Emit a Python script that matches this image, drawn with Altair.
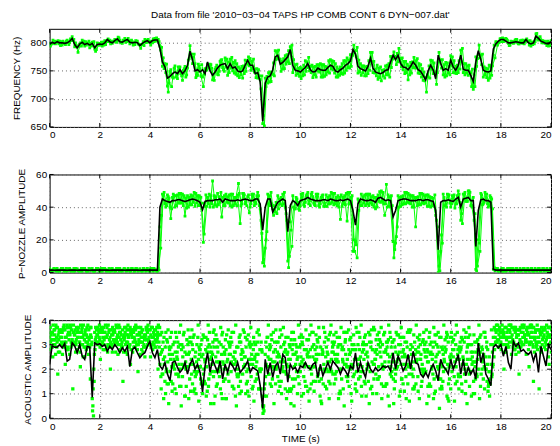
import altair as alt
import pandas as pd

FONT = "Liberation Sans"
GREEN = "#00ff00"
TITLE = "Data from file  '2010\u221203\u221204 TAPS HP COMB CONT 6 DYN\u2212007.dat'"
X_TITLE = "TIME (s)"
Y_TITLES = ["FREQUENCY (Hz)", "P\u2212NOZZLE AMPLITUDE", "ACOUSTIC AMPLITUDE"]
X_TICKS = [0, 2, 4, 6, 8, 10, 12, 14, 16, 18, 20]
Y_TICKS_1 = [650, 700, 750, 800]
Y_TICKS_2 = [0, 20, 40, 60]
Y_TICKS_3 = [0, 1, 2, 3, 4]
Y_DOM_1 = [650, 825]
Y_DOM_2 = [0, 60]
Y_DOM_3 = [0, 4]
STEP = 0.1  # seconds between samples

# ---- panel 1: frequency (Hz), smoothed line ----
freq_line = [
    797, 801, 799, 802, 800, 800, 799, 800, 803, 808,
    797, 791, 798, 801, 797, 799, 796, 799, 791, 797,
    798, 797, 800, 806, 802, 800, 804, 807, 802, 801,
    804, 806, 801, 800, 801, 800, 795, 799, 802, 804,
    800, 804, 805, 805, 790, 766, 757, 737, 740, 745,
    748, 745, 752, 745, 750, 760, 785, 770, 750, 752,
    748, 752, 745, 766, 750, 742, 748, 755, 760, 762,
    763, 754, 763, 755, 757, 750, 748, 750, 760, 769,
    760, 760, 745, 747, 730, 660, 728, 739, 741, 752,
    775, 778, 762, 765, 770, 775, 788, 760, 751, 750,
    748, 752, 756, 763, 752, 748, 749, 755, 752, 751,
    751, 756, 760, 758, 750, 748, 752, 755, 760, 763,
    768, 788, 780, 758, 754, 752, 750, 758, 773, 755,
    748, 746, 745, 747, 751, 752, 766, 778, 770, 778,
    763, 757, 756, 752, 758, 766, 760, 752, 749, 742,
    734, 750, 760, 752, 736, 778, 763, 751, 754, 751,
    769, 757, 751, 760, 778, 753, 751, 751, 742, 731,
    765, 786, 770, 751, 749, 748, 750, 789, 798, 803,
    806, 806, 803, 800, 800, 801, 802, 801, 800, 800,
    806, 800, 798, 800, 812, 808, 803, 801, 799, 798, 802,
]
# raw samples, as deviations (Hz) from the smoothed line
freq_dev_a = [
    2, -3, 4, -1, 3, -4, 1, 5, -2, 3,
    -4, 2, -1, 4, -3, 1, -5, 2, -2, 3,
    1, -3, 4, -2, 3, -1, 2, -4, 3, -2,
    4, -1, -3, 2, -4, 3, 1, -2, 4, -3,
    2, -4, 3, -1, 4, -8, 6, -14, 9, -6,
    11, -9, 5, -12, 8, -5, 10, -7, 13, -10,
    6, -13, 9, -4, 12, -8, 5, -11, 7, -6,
    10, -12, 8, -5, 11, -9, 6, -13, 9, -7,
    12, -6, 8, -10, 5, -4, 9, -11, 7, -8,
    11, -6, 9, -12, 7, -9, 5, -13, 10, -5,
    8, -11, 12, -7, 6, -10, 9, -5, 11, -12,
    7, -8, 10, -6, 13, -9, 5, -11, 8, -7,
    11, -10, 6, -12, 9, -5, 7, -13, 10, -8,
    5, -11, 12, -6, 8, -9, 10, -7, 6, -12,
    9, -5, 11, -18, 7, -10, 8, -6, 12, -9,
    5, -11, 9, -7, 10, -12, 6, -8, 11, -5,
    8, -10, 7, -13, 9, -6, 12, -9, 5, -14,
    10, -7, 8, -12, 6, -15, 9, -11, 4, -3,
    2, -4, 5, -1, 3, -2, 4, -3, 1, 5,
    -2, 3, -4, 1, 4, -3, 2, -1, 3, -4, 2,
]
freq_dev_b = [
    -3, 4, -1, 2, -5, 3, -2, 1, 4, -3,
    3, -8, 2, -3, 5, -1, 3, -4, -6, 1,
    -2, 4, -3, 1, -4, 2, -1, 3, -2, 4,
    -3, 2, 1, -4, 3, -2, -5, 3, -1, 2,
    -4, 3, -2, 1, -3, 7, -10, -25, 12, -8,
    -9, 12, -7, 6, -11, 9, -8, 5, -12, 10,
    -7, -30, 6, -9, 11, -5, 8, -12, 9, -10,
    -6, 12, -8, 10, -13, 7, -5, 9, -11, 6,
    -9, 11, -7, 5, -12, 10, -6, 8, -10, 12,
    -5, 9, -13, 7, -8, 11, -6, 10, -9, 5,
    -12, 8, -7, 11, -5, 9, -10, 6, -13, 10,
    -8, 12, -6, 9, -11, 5, -7, 13, -9, 6,
    -10, 8, -5, 11, -12, 7, -9, 10, -6, 12,
    -7, 9, -13, 5, -8, 11, -10, 6, -9, 12,
    -6, 10, -9, 7, -12, 8, -5, 11, -10, 6,
    -22, 9, -7, 12, -10, 5, -8, 10, -13, 7,
    -9, 11, -6, 8, -12, 10, -5, 9, -20, 12,
    -7, 10, -9, 6, -11, 12, -8, 7, 3, -2,
    -4, 1, 3, -5, 2, -1, 4, -3, 5, -2,
    1, -4, 3, -2, 5, -1, -3, 2, -4, 3, -1,
]
freq_dev_c = [
    1, -2, 3, -4, 2, -1, 4, -3, 1, -2,
    -2, 3, -4, 2, -1, 4, -2, 3, -3, -1,
    3, -1, 2, -4, 1, 3, -3, 2, -1, 3,
    -2, -3, 4, -1, 2, -3, 2, -4, 3, -1,
    3, -2, 4, -3, 2, -12, 5, -9, -18, 10,
    -6, 8, -11, 9, -7, 12, -5, 10, -9, 6,
    13, -8, 7, -11, 5, -9, 12, -6, 10, -13,
    8, -7, 11, -9, 6, -12, 10, -5, 8, -10,
    7, -12, 9, -6, 11, -8, 12, -9, 6, -11,
    10, -7, 5, -11, 9, -12, 8, -6, 11, -10,
    6, -9, 10, -13, 8, -5, 12, -7, 9, -11,
    5, -10, 8, -12, 7, -6, 11, -9, 13, -8,
    9, -6, 12, -10, 5, -11, 8, -7, 10, -9,
    12, -8, 6, -10, 9, -13, 7, -5, 11, -8,
    10, -12, 6, -9, 8, -11, 12, -7, 5, -10,
    9, -13, 8, -6, 11, -9, 7, -12, 10, -8,
    6, -11, 9, -7, 12, -10, 8, -6, 11, -9,
    7, -13, 10, -8, 5, -11, 9, -16, -2, 4,
    3, -3, 1, -4, 2, 4, -2, 3, -1, 2,
    -3, 4, -1, 2, -4, 3, 1, -2, 4, -3, 2,
]

# ---- panel 2: P-nozzle amplitude ----
pnoz_line = [
    1.5, 1.6, 1.4, 1.5, 1.5, 1.6, 1.5, 1.4, 1.5, 1.5,
    1.5, 1.4, 1.5, 1.6, 1.5, 1.5, 1.4, 1.5, 1.5, 1.6,
    1.5, 1.5, 1.6, 1.5, 1.4, 1.5, 1.5, 1.6, 1.5, 1.5,
    1.4, 1.5, 1.5, 1.6, 1.5, 1.5, 1.4, 1.5, 1.5, 1.5,
    1.5, 1.5, 1.6, 1.5, 40, 45, 44, 43.5, 43, 44,
    44, 44.5, 44.5, 44, 43.5, 44, 44.5, 45, 44.5, 44,
    43, 38.5, 43.5, 44, 44, 44, 44.5, 44.5, 45, 43,
    45, 44.5, 44, 44, 44, 44.5, 44, 44.5, 45, 44.5,
    44, 44, 45, 45, 42, 26, 40, 45, 45, 37,
    40, 43, 44, 45, 44, 25, 41, 44, 43, 41,
    44, 44.5, 45, 46, 45, 44.5, 44, 44, 44, 44.5,
    44.5, 44, 45, 44.5, 44, 44, 44.5, 44, 44.5, 45,
    44, 38, 29, 42, 45, 44.5, 44, 44, 44.5, 44,
    43, 45.5, 46, 45, 44, 44.5, 44, 34, 38, 44,
    44.5, 45, 45, 44.5, 44, 44, 44, 44.5, 44.5, 44,
    44.5, 44.5, 44, 43.5, 38, 14, 43, 44, 44, 44.5,
    44, 43.5, 45, 46, 40, 45, 45.5, 46, 44, 44,
    16, 38, 44.5, 45, 44, 44, 43, 2, 1.5, 1.5,
    1.5, 1.5, 1.5, 1.5, 1.5, 1.5, 1.5, 1.5, 1.5, 1.5,
    1.5, 1.5, 1.5, 1.5, 1.5, 1.5, 1.5, 1.5, 1.5, 1.5, 1.5,
]
pnoz_dev_a = [
    1, -1, 0, 1, -1, 1, 0, -1, 1, 0,
    -1, 1, 0, -1, 1, -1, 0, 1, -1, 1,
    0, -1, 1, 0, -1, 1, -1, 0, 1, -1,
    1, 0, -1, 1, -1, 0, 1, -1, 0, 1,
    -1, 1, 0, -1, -12, 3, -2, 4, -3, 2,
    -4, 3, -2, 4, -9, 3, -3, 2, -4, 3,
    -2, 4, -3, 2, -4, 12, -3, 4, -2, 3,
    -4, 2, -3, 4, -2, 3, -14, 4, -3, 2,
    -4, 3, -2, 4, -3, -20, -25, 3, -4, 2,
    -3, 4, -2, 3, -4, -18, -10, 3, -4, 2,
    -3, 4, -2, 3, -4, 2, -3, 4, -2, 3,
    -4, 2, -3, 4, -2, 3, -12, 2, -3, 4,
    -2, -25, -10, 3, -4, 2, -3, 4, -2, 3,
    -4, 2, -3, 4, -2, 3, -4, -15, -20, 3,
    -4, 2, -3, 4, -2, 3, -16, 2, -3, 4,
    -2, 3, -4, 2, -3, -14, -30, 4, -2, 3,
    -4, 2, -3, 4, -8, 3, -2, 4, -3, 2,
    -14, -18, 4, -3, 2, -4, 3, 0, 1, -1,
    0, 1, -1, 0, 1, -1, 1, 0, -1, 1,
    -1, 0, 1, -1, 0, 1, -1, 1, 0, -1, 1,
]
pnoz_dev_b = [
    -1, 0, 1, -1, 0, 1, -1, 1, 0, -1,
    1, 0, -1, 1, 0, -1, 1, -1, 0, 1,
    -1, 1, 0, -1, 1, 0, -1, 1, -1, 0,
    0, 1, -1, 0, 1, -1, 0, 1, -1, 0,
    1, -1, 0, 1, -25, 2, -4, 3, -10, 4,
    3, -2, 4, -3, 2, -4, 3, -2, 4, -3,
    3, -20, 4, -2, 3, -4, 2, -3, 4, -2,
    3, -2, 4, -3, 2, 10, -3, 4, -2, 3,
    -2, 4, -3, 2, -10, -18, -20, -3, 4, -2,
    3, -4, 2, -3, -8, -22, -15, -4, 3, -2,
    4, -3, 2, -4, 3, -2, 4, -3, 2, -4,
    3, -2, 4, -3, 2, -4, 3, -2, 4, -3,
    2, -18, -12, -4, 3, -2, 4, -3, 2, -4,
    3, -2, 4, -3, 10, -4, 3, -25, -16, -4,
    2, -3, 4, -2, 3, -4, 2, -3, 4, -2,
    3, -4, 2, -3, -6, -10, -20, 2, -4, 3,
    -2, 4, -3, 2, -4, 3, -2, 4, -3, -12,
    -15, -20, 3, -2, 4, -3, 2, 1, 0, -1,
    1, -1, 0, 1, -1, 0, 1, -1, 0, 1,
    0, -1, 1, 0, -1, 1, 0, -1, 1, 0, -1,
]
pnoz_dev_c = [
    0, 1, -1, 0, 1, -1, 1, 0, -1, 1,
    0, -1, 1, 0, -1, 1, 0, -1, 1, -1,
    1, 0, -1, 1, -1, 0, 1, -1, 0, 1,
    -1, 0, 1, -1, 1, 0, -1, 1, 0, -1,
    0, 1, -1, 0, -5, 4, -3, 2, -4, 3,
    -3, 4, -2, 3, -4, 2, -3, 4, -2, 3,
    -4, -15, -3, 4, -2, 3, -4, 2, -11, 4,
    -2, 3, -4, 2, -3, 4, -2, 3, -4, -8,
    4, -3, 2, -4, -18, -22, -15, 2, -3, 4,
    -4, 2, -3, 4, -12, -15, -25, -5, 2, -3,
    2, -4, 3, -2, 4, -3, 2, -4, 3, -2,
    -4, 3, -2, 4, -3, 2, -4, 3, -13, 4,
    3, -25, -20, 2, -4, 3, -2, 4, -3, 2,
    -3, 4, -2, -10, -4, 2, -3, -20, -10, 2,
    -3, 4, -2, 3, -4, 2, -3, 4, -2, 3,
    -4, 2, -3, 4, -10, -13, -25, -3, 4, -2,
    3, -4, 2, -3, -10, 4, -2, 3, -4, -8,
    -12, -25, -3, 4, -2, 3, -4, -1, 1, 0,
    -1, 0, 1, -1, 1, 0, -1, 1, 0, -1,
    1, 0, -1, 1, 0, -1, 1, 0, -1, 1, 0,
]

# ---- panel 3: acoustic amplitude ----
acou_line = [
    2.2, 2.95, 2.9, 2.9, 3.0, 2.87, 3.04, 2.33, 2.4, 3.07,
    2.95, 2.67, 3.0, 2.53, 2.4, 2.93, 2.9, 0.85, 3.07, 3.0,
    3.04, 2.93, 3.0, 2.73, 2.93, 2.8, 3.0, 2.87, 2.67, 2.87,
    2.73, 2.93, 2.1, 2.8, 2.9, 2.67, 2.47, 2.6, 2.67, 2.93,
    3.13, 2.67, 2.47, 2.8, 2.13, 2.0, 2.27, 1.8, 1.53, 2.27,
    2.33, 2.07, 1.87, 2.0, 2.27, 1.8, 2.2, 2.4, 2.0, 2.2,
    1.87, 1.07, 2.13, 2.67, 1.87, 2.4, 2.13, 1.87, 2.33, 1.6,
    2.2, 1.87, 2.27, 2.13, 1.93, 2.27, 1.87, 2.0, 2.13, 2.33,
    1.87, 2.07, 2.0, 1.93, 1.33, 0.4, 2.4, 1.8, 2.27, 1.67,
    2.13, 2.27, 1.8, 2.6, 2.47, 1.47, 2.2, 2.0, 2.07, 1.87,
    2.13, 2.07, 2.27, 2.07, 2.0, 2.2, 2.27, 1.67, 2.2, 1.73,
    2.0, 2.27, 2.0, 2.33, 2.2, 2.07, 1.8, 2.07, 1.93, 1.73,
    2.13, 2.0, 2.67, 1.87, 2.27, 1.93, 1.67, 2.27, 2.0, 1.87,
    2.07, 1.93, 2.0, 2.13, 2.07, 2.13, 1.93, 2.67, 2.0, 2.53,
    2.27, 1.93, 2.13, 2.6, 2.0, 2.73, 2.27, 2.2, 1.8, 1.67,
    1.87, 1.67, 2.0, 2.2, 1.93, 1.53, 2.4, 2.13, 2.0, 1.8,
    2.4, 2.0, 2.27, 2.6, 1.8, 2.4, 1.73, 2.07, 1.8, 2.0,
    1.6, 3.07, 2.27, 2.67, 1.8, 1.6, 1.33, 2.9, 3.0, 2.87,
    3.0, 2.53, 2.93, 2.27, 2.0, 3.13, 2.93, 3.07, 2.73, 2.8,
    2.67, 2.6, 2.73, 2.33, 2.67, 1.87, 2.93, 2.53, 2.13, 3.0, 2.8,
]
# raw samples in tenths of a unit
acou_raw_1 = [
    33, 29, 36, 31, 27, 35, 30, 38, 26, 32,
    34, 28, 31, 37, 25, 33, 29, 8, 35, 30,
    32, 36, 28, 34, 30, 27, 35, 31, 37, 29,
    33, 26, 30, 36, 32, 28, 34, 31, 25, 35,
    30, 37, 29, 33, 22, 28, 15, 31, 19, 26,
    12, 24, 30, 17, 27, 21, 33, 14, 25, 19,
    28, 10, 23, 32, 18, 26, 9, 29, 21, 35,
    16, 24, 30, 13, 27, 20, 34, 18, 25, 11,
    29, 22, 15, 31, 19, 5, 26, 33, 14, 23,
    28, 17, 36, 21, 12, 27, 24, 30, 16, 25,
    19, 33, 22, 11, 28, 25, 15, 31, 20, 27,
    13, 26, 35, 18, 24, 29, 10, 23, 32, 17,
    27, 21, 14, 30, 25, 19, 34, 22, 12, 28,
    24, 16, 31, 20, 27, 9, 33, 23, 18, 26,
    30, 14, 25, 21, 36, 17, 28, 11, 24, 32,
    19, 27, 13, 29, 23, 35, 16, 26, 20, 31,
    12, 25, 30, 18, 28, 22, 15, 33, 24, 10,
    27, 20, 34, 16, 25, 13, 30, 33, 36, 29,
    31, 35, 27, 33, 38, 30, 26, 34, 29, 37,
    32, 28, 35, 15, 31, 36, 27, 33, 30, 25, 34,
]
acou_raw_2 = [
    28, 35, 30, 37, 33, 26, 36, 29, 34, 31,
    36, 33, 27, 30, 35, 31, 37, 3, 28, 34,
    29, 31, 35, 27, 33, 37, 30, 34, 28, 36,
    35, 31, 37, 27, 29, 34, 26, 36, 33, 30,
    36, 28, 32, 35, 26, 18, 29, 23, 33, 14,
    27, 31, 20, 25, 9, 30, 22, 28, 17, 33,
    21, 26, 14, 29, 24, 31, 19, 27, 12, 23,
    32, 18, 26, 22, 9, 29, 15, 27, 33, 20,
    24, 13, 30, 26, 20, 2, 17, 25, 29, 21,
    14, 31, 23, 19, 28, 33, 11, 26, 22, 17,
    30, 24, 13, 27, 20, 35, 23, 18, 29, 14,
    25, 32, 20, 27, 16, 23, 30, 12, 26, 21,
    33, 17, 28, 24, 19, 31, 26, 15, 29, 22,
    18, 30, 25, 13, 28, 32, 21, 16, 27, 34,
    22, 28, 17, 25, 30, 20, 14, 29, 26, 18,
    31, 23, 27, 8, 25, 20, 33, 19, 28, 14,
    26, 32, 21, 17, 29, 24, 35, 20, 27, 15,
    23, 30, 18, 26, 20, 14, 22, 30, 35, 32,
    28, 34, 37, 29, 33, 31, 36, 27, 35, 30,
    26, 34, 31, 37, 29, 33, 28, 36, 32, 30, 27,
]
acou_raw_3 = [
    37, 25, 32, 18, 35, 30, 22, 34, 38, 12,
    31, 36, 21, 33, 29, 38, 16, 5, 32, 37,
    24, 33, 38, 30, 20, 34, 31, 26, 35, 15,
    30, 38, 22, 33, 36, 19, 31, 27, 34, 38,
    25, 31, 36, 20, 34, 31, 10, 36, 24, 30,
    35, 18, 38, 29, 23, 36, 11, 33, 27, 38,
    16, 34, 28, 38, 6, 35, 25, 20, 37, 29,
    8, 36, 33, 25, 38, 17, 31, 36, 10, 34,
    37, 28, 21, 36, 12, 4, 31, 38, 24, 35,
    36, 11, 29, 37, 33, 21, 6, 35, 30, 38,
    25, 10, 36, 32, 38, 15, 34, 26, 7, 37,
    33, 19, 38, 30, 35, 8, 37, 28, 22, 36,
    10, 34, 37, 16, 38, 28, 9, 35, 31, 37,
    32, 21, 37, 34, 14, 38, 29, 6, 35, 30,
    37, 33, 8, 36, 21, 34, 38, 27, 13, 35,
    36, 9, 31, 37, 34, 16, 29, 38, 33, 7,
    35, 28, 38, 12, 33, 36, 22, 37, 9, 34,
    31, 38, 24, 35, 29, 19, 36, 25, 38, 34,
    35, 20, 32, 38, 26, 36, 33, 18, 31, 38,
    36, 21, 38, 33, 30, 12, 37, 34, 38, 22, 36,
]
acou_raw_4 = [
    31, 38, 26, 34, 30, 36, 33, 28, 37, 35,
    27, 33, 38, 25, 36, 30, 34, 12, 37, 31,
    36, 28, 33, 38, 31, 35, 27, 37, 32, 33,
    27, 34, 35, 31, 38, 30, 37, 33, 29, 32,
    34, 33, 29, 38, 17, 24, 35, 14, 29, 21,
    18, 29, 13, 34, 20, 26, 31, 22, 10, 24,
    30, 18, 33, 13, 29, 17, 34, 23, 30, 15,
    28, 31, 19, 35, 23, 13, 26, 21, 29, 24,
    17, 33, 26, 12, 31, 5, 22, 18, 34, 27,
    20, 26, 15, 30, 18, 24, 32, 13, 27, 19,
    34, 17, 28, 21, 14, 30, 26, 37, 16, 22,
    29, 15, 24, 34, 19, 30, 20, 35, 17, 28,
    22, 30, 19, 35, 13, 24, 30, 21, 36, 16,
    28, 35, 14, 27, 31, 23, 17, 32, 20, 24,
    16, 22, 31, 18, 26, 12, 23, 32, 20, 28,
    25, 33, 20, 16, 30, 27, 13, 24, 35, 21,
    33, 17, 24, 29, 14, 31, 27, 18, 30, 23,
    18, 26, 29, 21, 31, 25, 17, 37, 31, 36,
    33, 27, 35, 31, 37, 28, 34, 36, 30, 33,
    37, 30, 33, 27, 36, 31, 35, 29, 33, 37, 31,
]
acou_raw_5 = [
    35, 32, 38, 27, 33, 37, 31, 35, 29, 38,
    30, 35, 33, 38, 31, 26, 37, 1, 33, 36,
    30, 37, 33, 29, 36, 32, 38, 30, 34, 27,
    37, 33, 28, 35, 31, 37, 33, 29, 37, 31,
    29, 35, 31, 34, 12, 8, 19, 6, 15, 22,
    10, 17, 5, 21, 13, 8, 24, 11, 18, 7,
    14, 20, 9, 16, 25, 6, 13, 19, 10, 22,
    8, 15, 23, 12, 5, 18, 11, 21, 14, 9,
    24, 7, 16, 12, 20, 3, 9, 18, 13, 6,
    21, 15, 10, 23, 8, 17, 12, 5, 19, 14,
    9, 22, 13, 7, 18, 11, 24, 15, 6, 20,
    12, 8, 19, 14, 23, 10, 16, 5, 21, 13,
    7, 18, 11, 24, 9, 15, 20, 6, 13, 22,
    10, 17, 8, 21, 14, 5, 19, 12, 23, 9,
    16, 11, 22, 7, 18, 13, 24, 8, 15, 20,
    6, 14, 21, 10, 17, 4, 12, 23, 9, 16,
    19, 7, 15, 24, 11, 18, 6, 13, 22, 10,
    17, 8, 20, 12, 15, 9, 18, 28, 31, 37,
    38, 33, 29, 36, 34, 37, 30, 36, 38, 34,
    31, 37, 35, 32, 38, 36, 30, 37, 35, 33, 38,
]
acou_raw_6 = [
    34, 30, 37, 32, 36, 29, 33, 37, 31, 35,
    32, 37, 30, 34, 28, 36, 33, 20, 31, 35,
    37, 30, 33, 35, 29, 36, 32, 38, 30, 34,
    31, 36, 34, 29, 37, 32, 35, 30, 36, 33,
    37, 30, 34, 31, 27, 33, 20, 29, 35, 24,
    33, 22, 28, 35, 26, 31, 18, 34, 23, 29,
    25, 33, 21, 30, 27, 36, 23, 31, 26, 20,
    34, 26, 31, 22, 29, 33, 24, 35, 19, 30,
    26, 31, 23, 34, 28, 12, 29, 24, 32, 20,
    31, 25, 34, 27, 22, 30, 35, 21, 29, 33,
    23, 28, 32, 25, 35, 21, 29, 33, 26, 31,
    20, 34, 27, 31, 24, 33, 28, 22, 35, 26,
    30, 24, 35, 28, 21, 33, 27, 31, 23, 36,
    26, 32, 22, 35, 29, 25, 31, 20, 34, 27,
    33, 26, 29, 35, 23, 31, 27, 34, 22, 30,
    28, 35, 24, 31, 26, 33, 21, 29, 34, 25,
    31, 23, 35, 27, 32, 20, 29, 34, 25, 31,
    24, 33, 28, 35, 22, 19, 27, 36, 32, 35,
    30, 37, 33, 35, 31, 28, 36, 32, 37, 34,
    35, 31, 37, 33, 28, 35, 32, 36, 30, 34, 31,
]
acou_raw_7 = [
    29, 36, 33, 35, 31, 38, 28, 32, 36, 30,
    37, 31, 35, 29, 34, 32, 30, 15, 36, 33,
    35, 32, 29, 36, 34, 31, 37, 33, 29, 32,
    34, 29, 36, 33, 30, 35, 28, 34, 32, 36,
    30, 34, 37, 29, 35, 22, 32, 26, 21, 31,
    25, 35, 30, 21, 32, 27, 36, 19, 30, 26,
    32, 15, 27, 35, 22, 29, 32, 17, 34, 27,
    23, 30, 35, 27, 18, 31, 28, 25, 32, 22,
    30, 24, 35, 20, 27, 9, 33, 28, 21, 31,
    25, 33, 20, 31, 26, 12, 28, 32, 24, 29,
    31, 21, 26, 34, 29, 24, 32, 20, 28, 35,
    27, 23, 31, 26, 33, 20, 29, 35, 24, 32,
    21, 28, 24, 33, 27, 30, 22, 34, 28, 24,
    34, 27, 30, 23, 31, 35, 26, 29, 21, 33,
    25, 31, 35, 22, 29, 26, 33, 24, 31, 27,
    23, 30, 26, 34, 21, 12, 28, 32, 22, 33,
    28, 34, 26, 31, 22, 33, 24, 30, 27, 21,
    32, 27, 23, 33, 28, 14, 21, 33, 38, 30,
    36, 33, 30, 38, 32, 35, 29, 37, 33, 31,
    34, 38, 30, 35, 33, 29, 36, 31, 34, 37, 33,
]
acou_raw_8 = [
    32, 34, 29, 36, 33, 31, 37, 35, 30, 34,
    35, 29, 36, 32, 37, 33, 31, 26, 34, 38,
    31, 35, 37, 32, 30, 36, 33, 35, 31, 37,
    36, 30, 33, 37, 34, 31, 36, 32, 37, 30,
    33, 36, 32, 37, 18, 25, 14, 28, 11, 20,
    27, 13, 22, 9, 26, 16, 30, 12, 21, 28,
    15, 24, 11, 27, 19, 32, 14, 23, 8, 26,
    20, 29, 13, 24, 17, 10, 27, 22, 15, 31,
    12, 25, 18, 28, 9, 14, 21, 30, 16, 23,
    27, 13, 24, 19, 11, 29, 16, 26, 10, 22,
    30, 15, 25, 12, 21, 28, 17, 9, 26, 19,
    23, 14, 29, 18, 26, 11, 24, 31, 15, 20,
    28, 12, 22, 17, 30, 14, 25, 19, 10, 27,
    16, 29, 21, 13, 26, 18, 31, 15, 24, 11,
    27, 20, 14, 28, 12, 23, 17, 30, 19, 25,
    13, 26, 18, 11, 29, 22, 15, 27, 8, 24,
    21, 14, 28, 17, 25, 10, 30, 19, 23, 16,
    28, 13, 24, 20, 11, 16, 22, 31, 36, 33,
    34, 30, 36, 33, 29, 37, 34, 31, 35, 32,
    37, 33, 29, 36, 31, 34, 33, 28, 37, 31, 35,
]

W, H = 506, 99


def line_frame(vals):
    return pd.DataFrame({"t": [round(i * STEP, 3) for i in range(len(vals))], "v": vals})


def dev_rows(line, devs):
    return [[b + d for b, d in zip(line, row)] for row in devs]


def raw_frame(rows):
    recs = []
    n = len(rows)
    for k, row in enumerate(rows):
        shift = STEP * k / n
        for i, v in enumerate(row):
            recs.append({"t": round(i * STEP + shift, 4), "v": max(v, 0), "row": k})
    return pd.DataFrame(recs)


def panel(line_vals, raw_rows, ydom, yticks, ytitle, xtitle, title_text=None,
          dense=False, pt_size=7):
    xscale = alt.Scale(domain=[0, 20], nice=False, zero=False)
    yscale = alt.Scale(domain=ydom, nice=False, zero=False)
    xaxis = alt.Axis(values=X_TICKS, format="d", title=xtitle, ticks=False,
                     domain=False, grid=True, labelPadding=3, titlePadding=2)
    yaxis = alt.Axis(values=yticks, format="d", title=ytitle, ticks=False,
                     domain=False, grid=True, labelPadding=3, titlePadding=9)
    X = alt.X("t:Q", scale=xscale, axis=xaxis)
    Y = alt.Y("v:Q", scale=yscale, axis=yaxis)
    raw = raw_frame(raw_rows)
    layers = []
    if dense:
        layers.append(alt.Chart(raw).mark_line(
            color=GREEN, strokeWidth=1, clip=True).encode(x=X, y=Y, detail="row:N"))
    layers.append(alt.Chart(raw).mark_square(
        size=pt_size, color=GREEN, opacity=1, clip=True).encode(x=X, y=Y))
    layers.append(alt.Chart(line_frame(line_vals)).mark_line(
        color="black", strokeWidth=1.6, clip=True).encode(x=X, y=Y))
    xt = pd.DataFrame({"t": X_TICKS})
    yt = pd.DataFrame({"v": yticks})
    layers += [
        alt.Chart(xt).mark_rule(color="black").encode(x=X, y=alt.value(0), y2=alt.value(4)),
        alt.Chart(xt).mark_rule(color="black").encode(x=X, y=alt.value(H - 4), y2=alt.value(H)),
        alt.Chart(yt).mark_rule(color="black").encode(y=Y, x=alt.value(0), x2=alt.value(4)),
        alt.Chart(yt).mark_rule(color="black").encode(y=Y, x=alt.value(W - 4), x2=alt.value(W)),
    ]
    layer = alt.layer(*layers).properties(width=W, height=H)
    if title_text:
        layer = layer.properties(title=alt.TitleParams(
            text=title_text, frame="group", anchor="middle", offset=8,
            fontSize=10, fontWeight="normal", font=FONT, color="black"))
    return layer


p1 = panel(freq_line, dev_rows(freq_line, [freq_dev_a, freq_dev_b, freq_dev_c]),
           Y_DOM_1, Y_TICKS_1, Y_TITLES[0], None, TITLE, dense=True, pt_size=8)
p2 = panel(pnoz_line, dev_rows(pnoz_line, [pnoz_dev_a, pnoz_dev_b, pnoz_dev_c]),
           Y_DOM_2, Y_TICKS_2, Y_TITLES[1], None, dense=True, pt_size=8)
acou_rows = [[v / 10 for v in r] for r in [acou_raw_1, acou_raw_2, acou_raw_3, acou_raw_4,
                                            acou_raw_5, acou_raw_6, acou_raw_7, acou_raw_8]]
p3 = panel(acou_line, acou_rows, Y_DOM_3, Y_TICKS_3, Y_TITLES[2], X_TITLE, pt_size=11)

chart = alt.vconcat(p1, p2, p3, spacing=27).properties(
    padding={"left": 2, "top": 0, "right": 0, "bottom": 0}
).configure_view(stroke="black", strokeWidth=1).configure_axis(
    labelFont=FONT, titleFont=FONT, labelFontSize=10, titleFontSize=10,
    titleFontWeight="normal", labelColor="black", titleColor="black",
    gridColor="#666666", gridDash=[1, 3], gridOpacity=1, gridWidth=1
).configure_title(font=FONT, fontSize=10, fontWeight="normal")

chart.save("out.html", embed_options={"renderer": "svg", "actions": False})
